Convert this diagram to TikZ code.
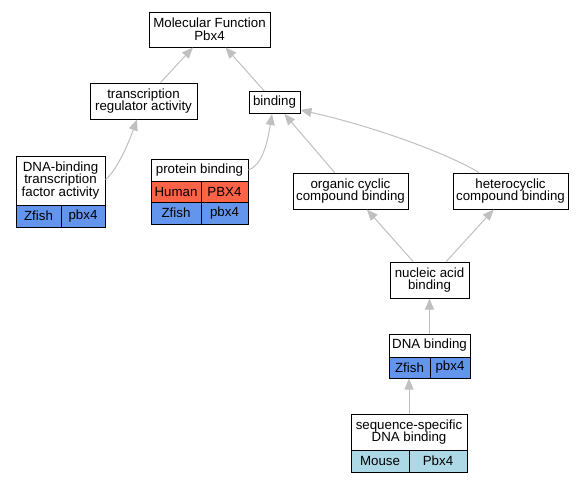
\documentclass[tikz,border=0pt]{standalone}
\usepackage{fontspec}
\setmainfont{Liberation Sans}
\usetikzlibrary{arrows.meta}
\definecolor{edgegray}{RGB}{192,192,192}
\definecolor{zfish}{RGB}{100,149,237}
\definecolor{human}{RGB}{255,99,71}
\definecolor{mouse}{RGB}{173,216,230}
\newcommand{\fs}{\fontsize{13.3}{12.8}\selectfont}
\tikzset{
  term/.style={draw=black, line width=1pt, fill=white, inner sep=0pt, align=center, font=\fs},
  cell/.style={term, fill=#1},
  edge/.style={draw=edgegray, line width=1pt, -{Triangle[length=11pt,width=9pt]}}
}
\begin{document}
\begin{tikzpicture}[x=1pt,y=-1pt]
\useasboundingbox[fill=white] (0,0) rectangle (584,483);
% nodes
\node[term, minimum width=121, minimum height=35] (mf) at (209.5,29.5) {Molecular Function\\Pbx4};
\node[term, minimum width=107, minimum height=36] (tra) at (143.5,101) {transcription\\regulator activity};
\node[term, minimum width=51, minimum height=22] (bind) at (274.5,102.5) {binding};
% DNA-binding TF activity
\node[term, minimum width=89, minimum height=49] (dbtf) at (60.5,180.5) {DNA-binding\\transcription\\factor activity};
\node[cell=zfish, minimum width=45, minimum height=22] (dbtfa) at (38.5,216) {Zfish};
\node[cell=zfish, minimum width=44, minimum height=22] (dbtfb) at (83,216) {pbx4};
% protein binding
\node[term, minimum width=97, minimum height=22] (pb) at (199.5,170) {protein binding};
\node[cell=human, minimum width=50, minimum height=21] (pba) at (176,191.5) {Human};
\node[cell=human, minimum width=47, minimum height=21] (pbb) at (224.5,191.5) {PBX4};
\node[cell=zfish, minimum width=50, minimum height=22] (pbc) at (176,213) {Zfish};
\node[cell=zfish, minimum width=47, minimum height=22] (pbd) at (224.5,213) {pbx4};
% compound binding
\node[term, minimum width=115, minimum height=36] (occ) at (350.5,191) {organic cyclic\\compound binding};
\node[term, minimum width=115, minimum height=36] (hcc) at (510.5,191) {heterocyclic\\compound binding};
\node[term, minimum width=79, minimum height=36] (nab) at (429.5,280) {nucleic acid\\binding};
% DNA binding
\node[term, minimum width=81, minimum height=23] (dnab) at (429.5,345.5) {DNA binding};
\node[cell=zfish, minimum width=41, minimum height=21] (dnaba) at (409.5,367.5) {Zfish};
\node[cell=zfish, minimum width=40, minimum height=21] (dnabb) at (450,367.5) {pbx4};
% sequence-specific
\node[term, minimum width=116, minimum height=36] (ssdb) at (409,432) {sequence-specific\\DNA binding};
\node[cell=mouse, minimum width=58, minimum height=22] (ssdba) at (380,461) {Mouse};
\node[cell=mouse, minimum width=58, minimum height=22] (ssdbb) at (438,461) {Pbx4};
\coordinate (dnabbot) at (ssdb.north |- dnaba.south);
% edges
\draw[edge] (tra) -- (mf);
\draw[edge] (bind) -- (mf);
\draw[edge] (dbtf.east) ++(0,-1) .. controls (115,172) and (126,150) .. (tra.south -| 137,0);
\draw[edge] (pb.east) .. controls (262,165) and (267,145) .. (bind.south -| 272,0);
\draw[edge] (occ) -- (bind);
\draw[edge] (hcc.north -| 479,0) .. controls (450,155) and (380,128) .. (bind.east |- 0,110);
\draw[edge] (nab) -- (occ);
\draw[edge] (nab) -- (hcc);
\draw[edge] (dnab.north) -- (nab.south);
\draw[edge] (ssdb.north) -- (dnabbot);
\end{tikzpicture}
\end{document}
